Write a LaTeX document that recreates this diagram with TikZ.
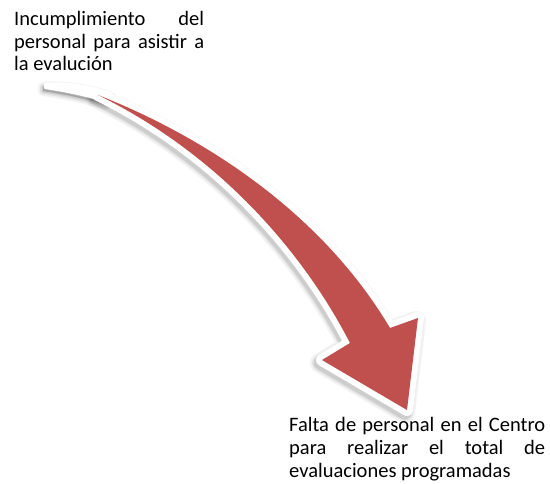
\documentclass[tikz,border=0pt]{standalone}
\usepackage{fontspec}
\setmainfont{Carlito}
\definecolor{arrowred}{HTML}{C0504D}
\tikzset{
  boxtext/.style={inner sep=0pt, anchor=north west, text width=#1, align=justify,
    font=\fontsize{20.5}{22.6}\selectfont},
  rim/.style={white, line join=round}
}
\begin{document}
\begin{tikzpicture}[x=1pt,y=-1pt]
    \useasboundingbox (0,0) rectangle (550,483);
    % curved arrow body and its thin white tail
    \def\arrowpath{(98,95) .. controls (200,135) and (320,210) .. (390,328)
        -- (418,318) -- (407,410) -- (322,360) -- (350,343)
        .. controls (310,265) and (230,160) .. (98,95) -- cycle}
    \def\tailpath{(45,84) .. controls (65,82) and (90,86) .. (112,93)
        -- (108,102) .. controls (85,95) and (65,91) .. (45,88) -- cycle}
    % soft shadow
    \begin{scope}[transform canvas={shift={(-2pt,-3pt)}}]
        \foreach \w/\o in {20/0.05,16/0.07,13/0.09}{
            \filldraw[black, opacity=\o, line width=\w pt, line join=round] \arrowpath;
            \filldraw[black, opacity=\o, line width=\w pt-10pt, line join=round] \tailpath;
        }
    \end{scope}
    \filldraw[rim, line width=12pt] \arrowpath;
    \filldraw[rim, line width=2pt] \tailpath;
    \fill[arrowred] \arrowpath;
    % texts
    \node[boxtext=190pt] (cause) at (14,11)
        {Incumplimiento del\linebreak personal para asistir a\linebreak la evalución};
    \node[boxtext=256pt] (effect) at (289,417.5)
        {Falta de personal en el Centro\linebreak para realizar el total de\linebreak evaluaciones programadas};
\end{tikzpicture}
\end{document}
